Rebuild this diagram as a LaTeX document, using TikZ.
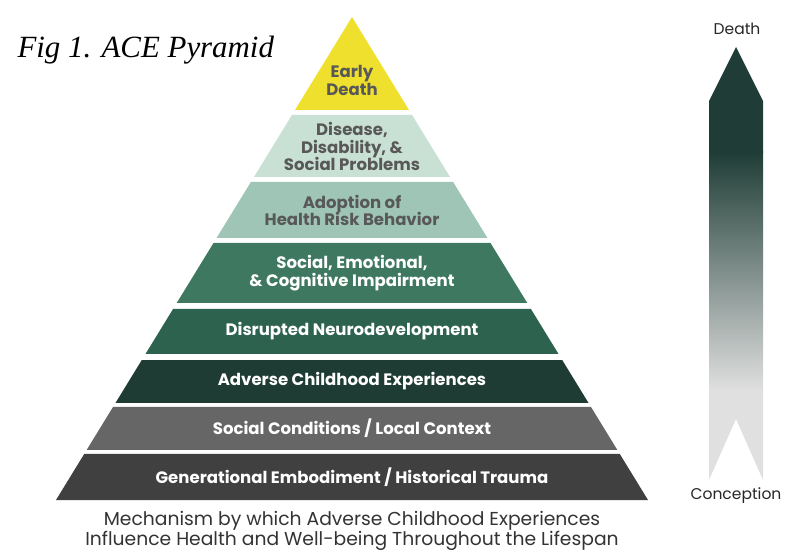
\documentclass[tikz,border=0pt]{standalone}
\usepackage{fontspec}
\setmainfont{Liberation Serif}
\newfontfamily\labelfont{Poppins}
\usetikzlibrary{calc,positioning}

\definecolor{acegold}{RGB}{240,224,46}
\definecolor{acemint}{RGB}{201,225,212}
\definecolor{acesage}{RGB}{158,197,182}
\definecolor{acegreen}{RGB}{62,120,97}
\definecolor{acepine}{RGB}{45,98,79}
\definecolor{aceforest}{RGB}{30,60,51}
\definecolor{acegray}{RGB}{102,102,102}
\definecolor{acecoal}{RGB}{64,64,64}
\definecolor{bandtext}{RGB}{88,88,88}
\definecolor{lifedark}{RGB}{31,61,54}
\definecolor{lifemid}{RGB}{112,134,128}
\definecolor{lifelight}{RGB}{224,224,224}

\begin{document}
\begin{tikzpicture}[x=1bp, y=-1bp,
    band/.style={font=\labelfont\bfseries\fontsize{16.6}{17.8}\selectfont, align=center},
    lifelabel/.style={font=\labelfont\fontsize{15.6}{15.6}\selectfont, text=black!85},
    caption/.style={font=\labelfont\fontsize{18.8}{20.5}\selectfont, align=center, text=black!80, inner sep=0pt}]
    \useasboundingbox (0,0) rectangle (797,552);

    % Title
    \node[anchor=west, font=\itshape\fontsize{31}{31}\selectfont] (title) at (14,50) {Fig 1. ACE Pyramid};

    % Pyramid corners
    \coordinate (apex) at (352,17);
    \coordinate (baseL) at (56,500);
    \coordinate (baseR) at (648,500);

    % Pyramid bands: top/bottom/text y/fill/text colour/label
    \foreach \ytop/\ybot/\ytxt/\fc/\tc/\lbl [count=\i] in {
        17/110/80.5/acegold/bandtext/{Early\\Death},
        115/177/146.5/acemint/bandtext/{Disease,\\Disability, \&\\Social Problems},
        182/238/210.5/acesage/bandtext/{Adoption of\\Health Risk Behavior},
        243/303/273/acegreen/white/{Social, Emotional,\\\& Cognitive Impairment},
        309/354/331.5/acepine/white/{Disrupted Neurodevelopment},
        360/403/381.5/aceforest/white/{Adverse Childhood Experiences},
        407/450/428.5/acegray/white/{Social Conditions / Local Context},
        454/500/477/acecoal/white/{Generational Embodiment / Historical Trauma}} {
        \pgfmathsetmacro\ft{(\ytop-17)/483}
        \pgfmathsetmacro\fb{(\ybot-17)/483}
        \fill[\fc] ($(apex)!\ft!(baseL)$) -- ($(apex)!\fb!(baseL)$)
            -- ($(apex)!\fb!(baseR)$) -- ($(apex)!\ft!(baseR)$) -- cycle;
        \node[band, text=\tc] (band\i) at (352,\ytxt) {\lbl};
    }

    % Caption under the pyramid
    \node[caption] (caption) at (352,531) {Mechanism by which Adverse Childhood Experiences\\Influence Health and Well-being Throughout the Lifespan};

    % Lifespan arrow
    \node[lifelabel] (death) at (737,29) {Death};
    \node[lifelabel] (conception) at (736,496) {Conception};
    \begin{scope}
        \clip (709,101) -- (736,47) -- (763,101) -- (763,480) -- (736,419) -- (709,480) -- cycle;
        \fill[lifedark] (700,40) rectangle (770,153);
        \shade[top color=lifedark, middle color=lifemid, bottom color=lifelight] (700,152) rectangle (770,391);
        \fill[lifelight] (700,390) rectangle (770,490);
    \end{scope}
\end{tikzpicture}
\end{document}
